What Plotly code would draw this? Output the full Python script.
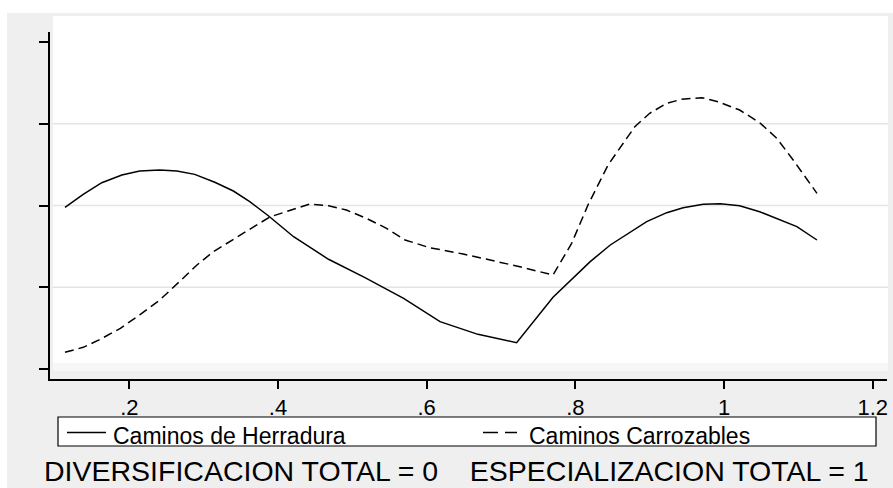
import plotly.graph_objects as go

# ---- data ----
herradura_x = [0.1135, 0.138, 0.163, 0.190, 0.214, 0.241, 0.264, 0.288, 0.315, 0.340,
               0.362, 0.387, 0.421, 0.468, 0.517, 0.569, 0.618, 0.669, 0.721, 0.770,
               0.820, 0.847, 0.896, 0.923, 0.945, 0.972, 0.995, 1.021, 1.048, 1.098, 1.125]
herradura_y = [1.978, 2.137, 2.279, 2.373, 2.422, 2.434, 2.422, 2.381, 2.284, 2.177,
               2.047, 1.875, 1.618, 1.342, 1.117, 0.865, 0.579, 0.424, 0.322, 0.877,
               1.313, 1.517, 1.802, 1.912, 1.973, 2.014, 2.022, 1.998, 1.924, 1.741, 1.578]

carrozables_x = [0.1135, 0.138, 0.161, 0.188, 0.214, 0.241, 0.266, 0.291, 0.313, 0.338,
                 0.362, 0.389, 0.443, 0.468, 0.492, 0.519, 0.546, 0.571, 0.604, 0.649,
                 0.721, 0.770, 0.795, 0.817, 0.844, 0.880, 0.900, 0.923, 0.943, 0.970,
                 0.992, 1.021, 1.048, 1.071, 1.093, 1.125]
carrozables_y = [0.204, 0.265, 0.363, 0.498, 0.661, 0.844, 1.056, 1.272, 1.435, 1.578,
                 1.709, 1.860, 2.018, 1.998, 1.945, 1.843, 1.721, 1.578, 1.484, 1.407,
                 1.260, 1.150, 1.537, 2.006, 2.495, 2.964, 3.128, 3.250, 3.299, 3.319,
                 3.270, 3.168, 3.013, 2.822, 2.557, 2.149]

x_tickvals = [0.2, 0.4, 0.6, 0.8, 1.0, 1.2]
x_ticktext = [".2", ".4", ".6", ".8", "1", "1.2"]
y_tickvals = [0, 1, 2, 3, 4]
grid_vals = [1, 2, 3]

series_names = ["Caminos de Herradura", "Caminos Carrozables"]
caption = "DIVERSIFICACION TOTAL = 0&nbsp;&nbsp;&nbsp; ESPECIALIZACION TOTAL = 1"

# ---- layout geometry (pixels) ----
W, H = 893, 488
L, R, T, B = 50, 887, 32, 379
PW, PH = R - L, B - T


def px(xp):
    return (xp - L) / PW


def py(yp):
    return (B - yp) / PH


FONT = "Liberation Sans, Arial, Helvetica, sans-serif"
GRAY = "#efefef"

fig = go.Figure()
fig.add_trace(go.Scatter(x=herradura_x, y=herradura_y, mode="lines", name=series_names[0],
                         line=dict(color="black", width=1.5), showlegend=False))
fig.add_trace(go.Scatter(x=carrozables_x, y=carrozables_y, mode="lines", name=series_names[1],
                         line=dict(color="black", width=1.5, dash="9px,5px"), showlegend=False))

shapes = [
    # graph region
    dict(type="rect", xref="paper", yref="paper", x0=px(7), x1=px(893), y0=py(488), y1=py(13),
         fillcolor=GRAY, line=dict(width=0), layer="below"),
    # light band under plot region
    dict(type="rect", xref="paper", yref="paper", x0=px(53), x1=px(888), y0=py(371), y1=py(363),
         fillcolor="#f7f7f7", line=dict(width=0), layer="below"),
    # plot region
    dict(type="rect", xref="paper", yref="paper", x0=px(53), x1=px(888), y0=py(363), y1=py(16),
         fillcolor="white", line=dict(width=0), layer="below"),
]
for g in grid_vals:
    shapes.append(dict(type="line", xref="paper", yref="y", x0=px(53), x1=px(888), y0=g, y1=g,
                       line=dict(color="#e4e4e4", width=1.5), layer="below"))

# legend box and keys
shapes.append(dict(type="rect", xref="paper", yref="paper", x0=px(58), x1=px(876), y0=py(446), y1=py(417),
                   fillcolor="white", line=dict(color="black", width=1.2)))
shapes.append(dict(type="line", xref="paper", yref="paper", x0=px(67), x1=px(106), y0=py(432.5), y1=py(432.5),
                   line=dict(color="black", width=1.5)))
shapes.append(dict(type="line", xref="paper", yref="paper", x0=px(483), x1=px(498), y0=py(432.5), y1=py(432.5),
                   line=dict(color="black", width=1.5)))
shapes.append(dict(type="line", xref="paper", yref="paper", x0=px(505), x1=px(517), y0=py(432.5), y1=py(432.5),
                   line=dict(color="black", width=1.5)))

annotations = [
    dict(text=series_names[0], xref="paper", yref="paper", x=px(111), y=py(436.5), xanchor="left",
         yanchor="middle", showarrow=False, font=dict(family=FONT, size=23, color="black")),
    dict(text=series_names[1], xref="paper", yref="paper", x=px(527), y=py(436.5), xanchor="left",
         yanchor="middle", showarrow=False, font=dict(family=FONT, size=23, color="black")),
    dict(text=caption, xref="paper", yref="paper", x=px(456), y=py(470.5), xanchor="center",
         yanchor="middle", showarrow=False, font=dict(family=FONT, size=28.5, color="black")),
]

fig.update_layout(
    width=W, height=H,
    margin=dict(l=L, r=W - R, t=T, b=H - B, pad=0),
    paper_bgcolor="white",
    plot_bgcolor="rgba(0,0,0,0)",
    shapes=shapes,
    annotations=annotations,
    showlegend=False,
    font=dict(family=FONT, size=22, color="black"),
)
fig.update_xaxes(
    range=[(L + 19.38) / 743.4, (R + 19.38) / 743.4],
    tickvals=x_tickvals, ticktext=x_ticktext,
    showline=True, linecolor="black", linewidth=1.5,
    ticks="outside", ticklen=8, tickwidth=1.5, tickcolor="black",
    showgrid=False, zeroline=False,
    tickfont=dict(family=FONT, size=22, color="black"),
)
fig.update_yaxes(
    range=[-10 / 81.75, (369 - T) / 81.75],
    tickvals=y_tickvals, showticklabels=False,
    showline=True, linecolor="black", linewidth=1.5,
    ticks="outside", ticklen=9, tickwidth=1.5, tickcolor="black",
    showgrid=False, zeroline=False,
)

fig.write_html("out.html",
               config={"displayModeBar": False},
               post_script="document.body.style.margin='0';document.body.style.padding='0';")
